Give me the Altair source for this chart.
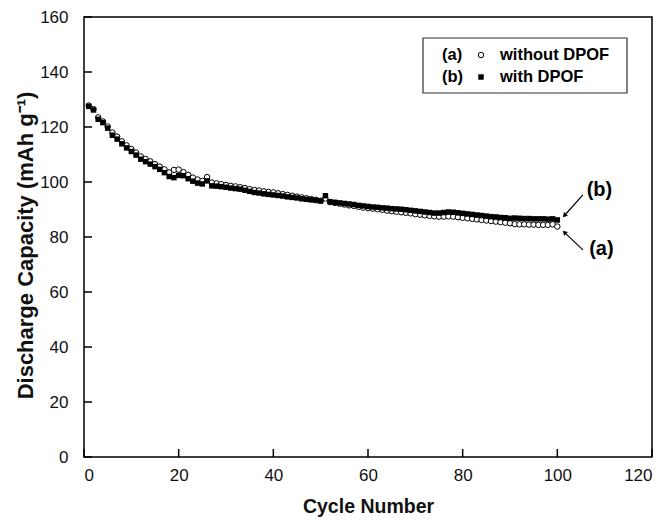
import altair as alt
import pandas as pd

cycles = list(range(1, 101))

cap_without = [
    127.8, 126.5, 123.5, 122.0, 120.2, 118.0, 116.5, 114.8, 113.3, 112.0,
    110.7, 109.3, 108.4, 107.5, 106.5, 105.6, 104.6, 103.5, 104.4, 104.5,
    103.6, 102.6, 101.6, 100.9, 100.4, 101.8, 99.8, 99.5, 99.2, 98.9,
    98.6, 98.4, 98.1, 97.8, 97.4, 97.1, 96.9, 96.6, 96.4, 96.2,
    95.9, 95.6, 95.3, 95.0, 94.7, 94.4, 94.1, 93.8, 93.5, 93.2,
    94.0, 92.7, 92.4, 92.1, 91.8, 91.5, 91.3, 91.0, 90.7, 90.5,
    90.3, 90.1, 89.9, 89.6, 89.4, 89.2, 89.0, 88.8, 88.6, 88.3,
    88.1, 87.9, 87.7, 87.5, 87.4, 87.4, 87.5, 87.4, 87.2, 87.0,
    86.8, 86.6, 86.4, 86.2, 86.0, 85.8, 85.6, 85.4, 85.2, 85.0,
    84.7, 84.6, 84.6, 84.5, 84.5, 84.4, 84.4, 84.4, 84.6, 83.8,
]

cap_with = [
    127.5, 126.2, 122.8, 121.6, 119.6, 117.0, 115.6, 113.9, 112.4, 111.1,
    109.8, 108.3, 107.4, 106.5, 105.6, 104.6, 103.4, 102.0, 101.6, 102.4,
    102.3, 101.2, 100.3, 99.6, 99.3, 100.4, 98.6, 98.5, 98.3, 98.1,
    97.8, 97.6, 97.4, 97.0, 96.6, 96.2, 96.0, 95.7, 95.5, 95.3,
    95.1, 94.9, 94.6, 94.4, 94.2, 93.9, 93.7, 93.5, 93.3, 93.1,
    95.0, 92.8, 92.6, 92.4, 92.2, 92.0, 91.8, 91.5, 91.3, 91.1,
    90.9, 90.8, 90.6, 90.5, 90.3, 90.2, 90.1, 89.9, 89.7, 89.5,
    89.3, 89.1, 88.9, 88.7, 88.7, 88.9, 89.1, 89.0, 88.8, 88.6,
    88.4, 88.2, 88.0, 87.8, 87.6, 87.4, 87.3, 87.1, 87.0, 86.8,
    86.9, 86.8, 86.7, 86.7, 86.6, 86.6, 86.6, 86.5, 86.6, 86.2,
]

x_ticks = [0, 20, 40, 60, 80, 100, 120]
y_ticks = [0, 20, 40, 60, 80, 100, 120, 140, 160]

legend_tags = ["(a)", "(b)"]
legend_labels = ["without DPOF", "with DPOF"]

annot_labels = ["(b)", "(a)"]
annot_text_x = [108.9, 109.3]
annot_text_y = [97.0, 75.5]
arrow_x_start = [105.4, 105.4]
arrow_y_start = [95.3, 75.3]
arrow_x_end = [101.6, 101.6]
arrow_y_end = [88.0, 81.5]
arrow_angle = [222, 315]

FONT = "Liberation Sans"
W, H = 568, 440

df_a = pd.DataFrame({"cycle": cycles, "cap": cap_without})
df_b = pd.DataFrame({"cycle": cycles, "cap": cap_with})

xs = alt.Scale(domain=[0, 120], nice=False, zero=False)
ys = alt.Scale(domain=[0, 160], nice=False, zero=False)

X_TITLE = "Cycle Number"
Y_TITLE = "Discharge Capacity (mAh g\u207b\u00b9)"
x_axis = alt.Axis(values=x_ticks, title=X_TITLE, labelPadding=10,
                  titlePadding=14, format="d", titleFontSize=19.5)
y_axis = alt.Axis(values=y_ticks, title=Y_TITLE, labelPadding=16,
                  titlePadding=2, format="d", titleFontSize=22, titleY=228)


def X(field="cycle"):
    return alt.X(f"{field}:Q", scale=xs, axis=x_axis, title=X_TITLE)


def Y(field="cap"):
    return alt.Y(f"{field}:Q", scale=ys, axis=y_axis, title=Y_TITLE)


MS = 30

circles = alt.Chart(df_a).mark_point(
    shape="circle", filled=True, fill="white", stroke="black",
    strokeWidth=1, size=MS, opacity=1
).encode(x=X(), y=Y())

squares = alt.Chart(df_b).mark_square(
    color="black", size=MS, opacity=1
).encode(x=X(), y=Y())

xt = alt.Chart(pd.DataFrame({"cycle": x_ticks})).mark_rule(
    color="black", strokeWidth=1.5
).encode(x=X(), y=alt.value(H), y2=alt.value(H - 8))

yt = alt.Chart(pd.DataFrame({"cap": y_ticks})).mark_rule(
    color="black", strokeWidth=1.5
).encode(y=Y(), x=alt.value(0), x2=alt.value(8))

# annotations
df_ann = pd.DataFrame({
    "lab": annot_labels, "cycle": annot_text_x, "cap": annot_text_y,
})
df_arrow = pd.DataFrame({
    "cycle": arrow_x_start, "cap": arrow_y_start,
    "cycle2": arrow_x_end, "cap2": arrow_y_end,
})
df_head = pd.DataFrame({"cycle": arrow_x_end, "cap": arrow_y_end,
                        "ang": arrow_angle})
ann_text = alt.Chart(df_ann).mark_text(
    font=FONT, fontSize=20, fontWeight="bold", align="center",
    baseline="middle", color="black"
).encode(x=X(), y=Y(), text="lab:N")
ann_line = alt.Chart(df_arrow).mark_rule(color="black", strokeWidth=1.2).encode(
    x=X(), y=Y(), x2="cycle2:Q", y2="cap2:Q")
ann_head = alt.Chart(df_head).mark_point(
    shape="triangle", filled=True, color="black", size=28, opacity=1
).encode(x=X(), y=Y(), angle=alt.Angle("ang:Q", scale=None))

# legend
one = pd.DataFrame({"k": [0]})
leg_box = alt.Chart(one).mark_rect(
    fill="white", stroke="#333", strokeWidth=1.2
).encode(x=alt.value(339), x2=alt.value(543), y=alt.value(21), y2=alt.value(76))

leg_layers = [leg_box]
row_y = [38, 60]
for i in range(2):
    leg_layers.append(alt.Chart(one).mark_text(
        text=legend_tags[i], font=FONT, fontSize=16.5, fontWeight="bold",
        align="left", baseline="middle", color="black"
    ).encode(x=alt.value(358), y=alt.value(row_y[i])))
    leg_layers.append(alt.Chart(one).mark_text(
        text=legend_labels[i], font=FONT, fontSize=16.5, fontWeight="bold",
        align="left", baseline="middle", color="black"
    ).encode(x=alt.value(416), y=alt.value(row_y[i])))
leg_layers.append(alt.Chart(one).mark_point(
    shape="circle", filled=True, fill="white", stroke="black",
    strokeWidth=1, size=MS, opacity=1
).encode(x=alt.value(397), y=alt.value(row_y[0])))
leg_layers.append(alt.Chart(one).mark_square(
    color="black", size=MS, opacity=1
).encode(x=alt.value(397), y=alt.value(row_y[1])))

chart = alt.layer(
    circles, squares, xt, yt, ann_line, ann_head, ann_text, *leg_layers
).properties(
    width=W, height=H,
    autosize=alt.AutoSizeParams(type="none"),
    padding={"left": 76, "top": 9, "right": 10, "bottom": 62},
).configure_view(
    stroke="black", strokeWidth=1.5
).configure_axis(
    grid=False, domain=False, ticks=False,
    labelFont=FONT, labelFontSize=17, labelColor="#111",
    titleFont=FONT, titleFontWeight="bold", titleColor="#111",
)

chart.save("out.html", embed_options={"renderer": "svg", "actions": False})
